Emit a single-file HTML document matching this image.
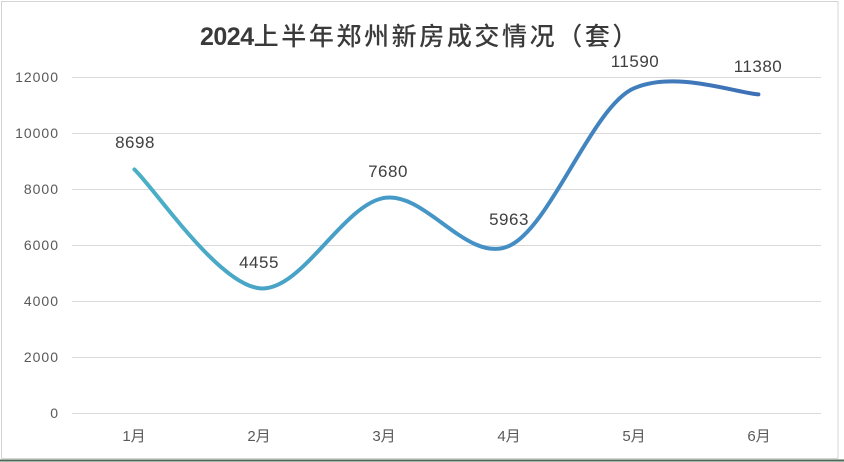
<!DOCTYPE html>
<html>
<head>
<meta charset="utf-8">
<style>
html,body{margin:0;padding:0;background:#fff;}
svg{display:block;}
</style>
</head>
<body>
<svg width="844" height="462" viewBox="0 0 844 462" xmlns="http://www.w3.org/2000/svg">
  <defs>
    <linearGradient id="lg" gradientUnits="userSpaceOnUse" x1="134" y1="0" x2="758" y2="0">
      <stop offset="0" stop-color="#4BB0C6"/>
      <stop offset="0.5" stop-color="#4595C7"/>
      <stop offset="1" stop-color="#3E6FB6"/>
    </linearGradient>
  </defs>
  <rect x="0" y="0" width="844" height="462" fill="#fff"/>
  <!-- chart border -->
  <rect x="1.5" y="1.5" width="836.5" height="457" fill="none" stroke="#d4d4d4" stroke-width="1"/>
  <line x1="0" y1="460.5" x2="844" y2="460.5" stroke="#4a6a55" stroke-width="2"/>

  <!-- title -->
  <text x="200" y="45" font-family="'Liberation Sans','Noto Sans CJK SC',sans-serif" fill="#3a3a3a"><tspan font-size="25" font-weight="bold" letter-spacing="-0.5">2024</tspan><tspan font-size="25" letter-spacing="2.6" font-weight="500">上半年郑州新房成交情况（套）</tspan></text>

  <!-- gridlines -->
  <g stroke="#d9d9d9" stroke-width="1">
    <line x1="72" y1="77.5" x2="821" y2="77.5"/>
    <line x1="72" y1="133.5" x2="821" y2="133.5"/>
    <line x1="72" y1="189.5" x2="821" y2="189.5"/>
    <line x1="72" y1="245.5" x2="821" y2="245.5"/>
    <line x1="72" y1="301.5" x2="821" y2="301.5"/>
    <line x1="72" y1="357.5" x2="821" y2="357.5"/>
    <line x1="72" y1="413.5" x2="821" y2="413.5"/>
  </g>

  <!-- y labels -->
  <g font-family="'Liberation Sans',sans-serif" font-size="14" fill="#595959" text-anchor="end" letter-spacing="1">
    <text x="59" y="82">12000</text>
    <text x="59" y="138">10000</text>
    <text x="59" y="194">8000</text>
    <text x="59" y="250">6000</text>
    <text x="59" y="306">4000</text>
    <text x="59" y="362">2000</text>
    <text x="59" y="418">0</text>
  </g>

  <!-- x labels -->
  <g font-family="'Liberation Sans','Noto Sans CJK SC',sans-serif" font-size="15" fill="#595959" text-anchor="middle">
    <text x="134" y="441">1月</text>
    <text x="259" y="441">2月</text>
    <text x="384" y="441">3月</text>
    <text x="509" y="441">4月</text>
    <text x="634" y="441">5月</text>
    <text x="759" y="441">6月</text>
  </g>

  <!-- series -->
  <path d="M134.4,169.46 C155.2,189.26 217.6,283.51 259.2,288.26 C300.8,293.01 342.4,205.0 384.0,197.96 C425.6,190.92 467.2,264.29 508.8,246.04 C550.4,227.79 592.0,107.0 633.6,88.48 C675.2,70.0 737.6,93.38 758.4,94.36"
        fill="none" stroke="url(#lg)" stroke-width="4" stroke-linecap="round" stroke-linejoin="round"/>

  <!-- data labels -->
  <g font-family="'Liberation Sans',sans-serif" font-size="17" fill="#404040" text-anchor="middle" letter-spacing="0.5">
    <text x="135" y="148">8698</text>
    <text x="259" y="268">4455</text>
    <text x="388" y="177">7680</text>
    <text x="509" y="225">5963</text>
    <text x="635" y="67">11590</text>
    <text x="758" y="72">11380</text>
  </g>
</svg>
</body>
</html>
